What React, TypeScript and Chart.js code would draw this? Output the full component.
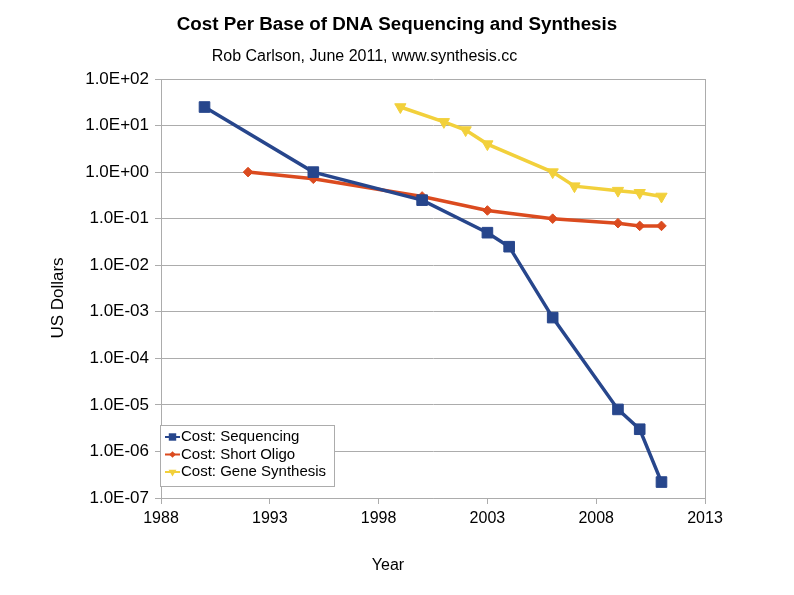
import React, { useEffect, useRef } from "react";
import { Chart, registerables } from "chart.js";

Chart.register(...registerables);

const seqYears = [1990, 1995, 2000, 2003, 2004, 2006, 2009, 2010, 2011];
const seqCost = [25, 1.0, 0.25, 0.05, 0.025, 7.5e-4, 8e-6, 3e-6, 2.2e-7];
const oligoYears = [1992, 1995, 2000, 2003, 2006, 2009, 2010, 2011];
const oligoCost = [1.0, 0.72, 0.3, 0.15, 0.1, 0.08, 0.07, 0.07];
const geneYears = [1999, 2001, 2002, 2003, 2006, 2007, 2009, 2010, 2011];
const geneCost = [25, 12, 8, 4, 1.0, 0.5, 0.4, 0.36, 0.3];

const xTickValues = [1988, 1993, 1998, 2003, 2008, 2013];
const yTickValues = [1e-7, 1e-6, 1e-5, 1e-4, 1e-3, 1e-2, 1e-1, 1, 10, 100];
const yTickLabels = ["1.0E-07", "1.0E-06", "1.0E-05", "1.0E-04", "1.0E-03", "1.0E-02", "1.0E-01", "1.0E+00", "1.0E+01", "1.0E+02"];

const TITLE = "Cost Per Base of DNA Sequencing and Synthesis";
const SUBTITLE = "Rob Carlson, June 2011, www.synthesis.cc";
const X_TITLE = "Year";
const Y_TITLE = "US Dollars";

const BLUE = "#27468c";
const ORANGE = "#db4b1f";
const YELLOW = "#f2d03b";
const GRID = "#acacac";
const FONT = "'Liberation Sans', Arial, sans-serif";

const seriesMeta = [
  { label: "Cost: Sequencing", color: BLUE, style: "rect", radius: 7.5, rotation: 0, years: seqYears, values: seqCost },
  { label: "Cost: Short Oligo", color: ORANGE, style: "rectRot", radius: 4.8, rotation: 0, years: oligoYears, values: oligoCost },
  { label: "Cost: Gene Synthesis", color: YELLOW, style: "triangle", radius: 6.5, rotation: 180, years: geneYears, values: geneCost },
];

function drawMarker(ctx: CanvasRenderingContext2D, style: string, x: number, y: number, r: number, rot: number) {
  ctx.beginPath();
  if (style === "rect") {
    const s = Math.SQRT1_2 * r;
    ctx.rect(x - s, y - s, 2 * s, 2 * s);
  } else if (style === "rectRot") {
    ctx.moveTo(x, y - r);
    ctx.lineTo(x + r, y);
    ctx.lineTo(x, y + r);
    ctx.lineTo(x - r, y);
    ctx.closePath();
  } else {
    const dir = rot === 180 ? 1 : -1;
    ctx.moveTo(x, y + dir * r);
    ctx.lineTo(x - r * 0.866, y - dir * r * 0.5);
    ctx.lineTo(x + r * 0.866, y - dir * r * 0.5);
    ctx.closePath();
  }
  ctx.fill();
}

const decorPlugin = {
  id: "decor",
  afterDraw(chart: any) {
    const ctx = chart.ctx;
    const ca = chart.chartArea;
    ctx.save();
    ctx.strokeStyle = GRID;
    ctx.lineWidth = 1;
    ctx.beginPath();
    ctx.moveTo(ca.right + 0.5, ca.top);
    ctx.lineTo(ca.right + 0.5, ca.bottom);
    ctx.stroke();

    ctx.fillStyle = "#000";
    ctx.textAlign = "center";
    ctx.textBaseline = "alphabetic";
    ctx.font = "bold 18.8px " + FONT;
    ctx.fillText(TITLE, 397, 30);
    ctx.font = "16px " + FONT;
    ctx.fillText(SUBTITLE, 364.5, 61);
    ctx.font = "16px " + FONT;
    ctx.textBaseline = "middle";
    ctx.fillText(X_TITLE, 388, 566);
    ctx.save();
    ctx.translate(58, 298);
    ctx.rotate(-Math.PI / 2);
    ctx.font = "17px " + FONT;
    ctx.fillText(Y_TITLE, 0, 0);
    ctx.restore();

    const lx = ca.left - 1;
    const ly = 425;
    const lw = 174;
    const lh = 61;
    ctx.fillStyle = "#fff";
    ctx.fillRect(lx, ly, lw, lh);
    ctx.strokeStyle = GRID;
    ctx.strokeRect(lx + 0.5, ly + 0.5, lw, lh);
    ctx.font = "15px " + FONT;
    ctx.textAlign = "left";
    ctx.textBaseline = "middle";
    seriesMeta.forEach((s, i) => {
      const cy = 437 + i * 17.5;
      ctx.strokeStyle = s.color;
      ctx.lineWidth = 2;
      ctx.beginPath();
      ctx.moveTo(165, cy);
      ctx.lineTo(180, cy);
      ctx.stroke();
      ctx.fillStyle = s.color;
      drawMarker(ctx, s.style, 172.5, cy, s.radius * 0.7, s.rotation);
      ctx.fillStyle = "#000";
      ctx.fillText(s.label, 181, cy);
    });
    ctx.restore();
  },
};

export default function App() {
  const ref = useRef<HTMLCanvasElement | null>(null);
  useEffect(() => {
    if (!ref.current) return;
    const chart = new Chart(ref.current, {
      type: "line",
      data: {
        datasets: seriesMeta.map((s) => ({
          label: s.label,
          data: s.years.map((yr, i) => ({ x: yr, y: s.values[i] })),
          borderColor: s.color,
          backgroundColor: s.color,
          borderWidth: 3.5,
          pointStyle: s.style as any,
          pointRadius: s.radius,
          pointRotation: s.rotation,
          pointBorderWidth: 1,
          pointBorderColor: s.color,
          pointBackgroundColor: s.color,
          tension: 0,
        })),
      },
      options: {
        animation: false,
        responsive: false,
        maintainAspectRatio: false,
        layout: { padding: { left: 0, top: 79, right: 89, bottom: 0 } },
        plugins: {
          legend: { display: false },
          title: { display: false },
          tooltip: { enabled: false },
        },
        scales: {
          x: {
            type: "linear",
            min: 1988,
            max: 2013,
            afterBuildTicks: (scale: any) => {
              scale.ticks = xTickValues.map((v) => ({ value: v }));
            },
            afterFit: (scale: any) => {
              scale.height = 97;
            },
            ticks: {
              callback: (v: any) => String(v),
              color: "#000",
              font: { family: FONT, size: 16 },
              padding: 5,
              maxRotation: 0,
              autoSkip: false,
            },
            grid: {
              drawOnChartArea: false,
              drawTicks: true,
              tickLength: 6,
              color: GRID,
            },
            border: { color: GRID },
          },
          y: {
            type: "logarithmic",
            min: 1e-7,
            max: 100,
            afterBuildTicks: (scale: any) => {
              scale.ticks = yTickValues.map((v) => ({ value: v }));
            },
            afterFit: (scale: any) => {
              scale.width = 161;
            },
            ticks: {
              callback: (v: any) => {
                const idx = yTickValues.findIndex((t) => Math.abs(Math.log10(t) - Math.log10(v)) < 1e-6);
                return idx >= 0 ? yTickLabels[idx] : "";
              },
              color: "#000",
              font: { family: FONT, size: 17 },
              padding: 6,
              autoSkip: false,
            },
            grid: {
              drawOnChartArea: true,
              drawTicks: true,
              tickLength: 6,
              color: GRID,
            },
            border: { color: GRID },
          },
        },
      },
      plugins: [decorPlugin],
    });
    return () => chart.destroy();
  }, []);
  return (
    <div style={{ position: "fixed", left: 0, top: 0, width: 794, height: 595, background: "#fff" }}>
      <canvas ref={ref} width={794} height={595} style={{ width: 794, height: 595 }} />
    </div>
  );
}
